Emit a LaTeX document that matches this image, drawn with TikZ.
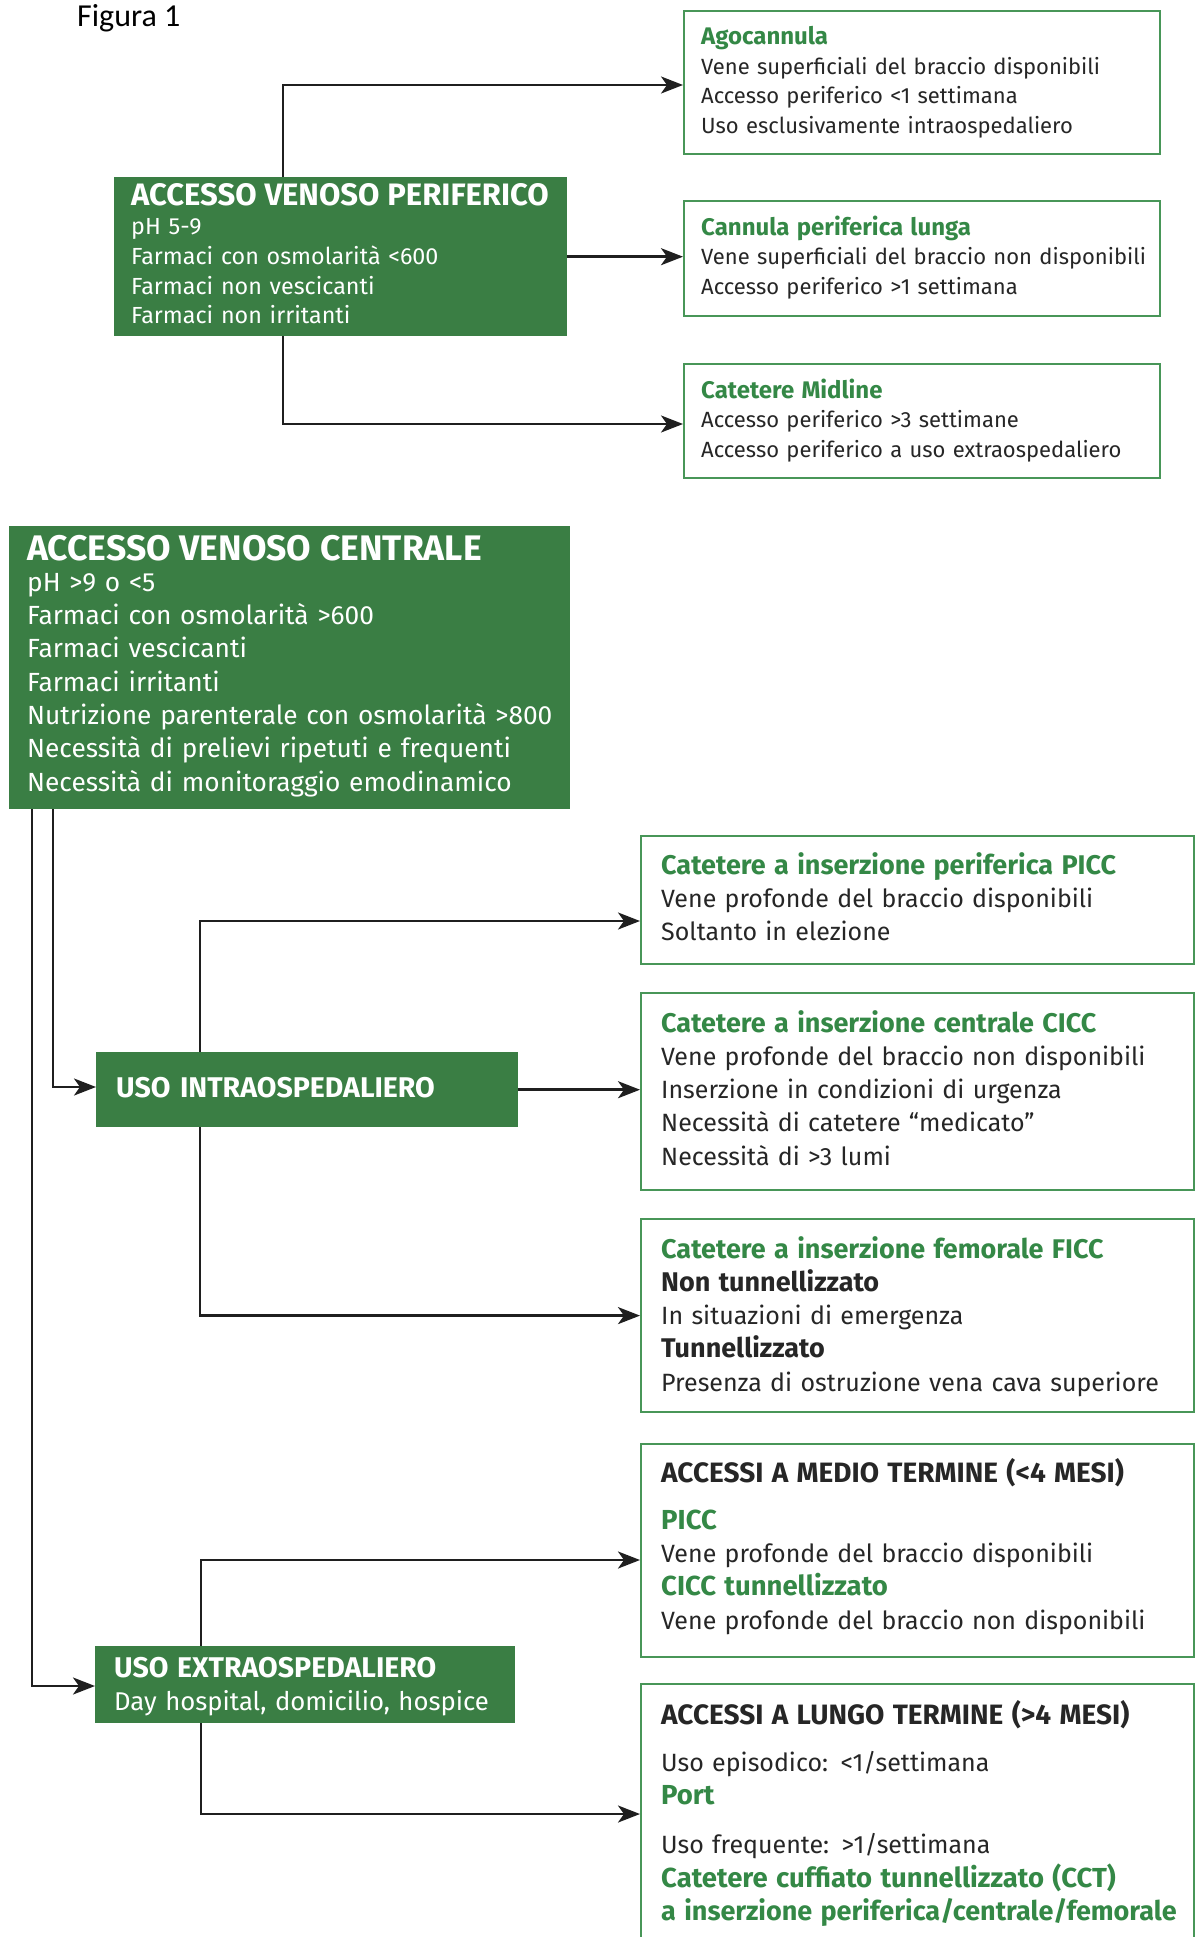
\documentclass[tikz,border=0pt]{standalone}
\usepackage{fontspec}
\setmainfont{Fira Sans}
\newfontfamily\figfont{Carlito}
\usetikzlibrary{arrows.meta}
\definecolor{vgreen}{RGB}{58,126,68}
\definecolor{tgreen}{RGB}{52,136,70}
\definecolor{bgreen}{RGB}{72,150,88}
\definecolor{dtext}{RGB}{38,38,38}
\newcommand{\fsz}[2]{\fontsize{#1}{#2}\selectfont}
\begin{document}
\begin{tikzpicture}[x=1pt,y=-1pt,
  gfill/.style={fill=vgreen, draw=none, inner sep=0pt, anchor=north west},
  wbox/.style={draw=bgreen, line width=2.2pt, fill=white, inner sep=0pt, anchor=north west},
  txt/.style={inner sep=0pt, anchor=base west, align=left, text width=#1},
  txt/.default=520,
  arr/.style={draw=black!88, line width=2.6pt, -{Stealth[length=22pt,width=17pt,inset=6pt]}},
  small/.style={font=\fsz{22}{29.5}},
  big/.style={font=\fsz{25}{33.3}},
]
\useasboundingbox (0,0) rectangle (1195,1937);
\fill[white] (0,0) rectangle (1195,1937);

\node[inner sep=0pt, anchor=base west, font=\figfont\fsz{32}{36}] (fig) at (77,27) {Figura 1};

% ---------- peripheral ----------
\node[gfill, minimum width=453, minimum height=159] (per) at (114,177) {};
\node[txt, font=\fsz{23.3}{29.7}, text=white] (perT) at (131,205)
  {{\fsz{31}{29.7}\bfseries ACCESSO VENOSO PERIFERICO}\\
   pH 5-9\\ Farmaci con osmolarità <600\\ Farmaci non vescicanti\\ Farmaci non irritanti};

\node[wbox, minimum width=476, minimum height=143] (ago) at (683,10) {};
\node[txt=470, small, text=dtext] (agoT) at (701,45)
  {{\fsz{24}{29.5}\color{tgreen}\bfseries Agocannula}\\ Vene superficiali del braccio disponibili\\
   Accesso periferico <1 settimana\\ Uso esclusivamente intraospedaliero};

\node[wbox, minimum width=476, minimum height=115] (can) at (683,200) {};
\node[txt=470, small, text=dtext] (canT) at (701,235)
  {{\fsz{24}{29.5}\color{tgreen}\bfseries Cannula periferica lunga}\\ Vene superficiali del braccio non disponibili\\
   Accesso periferico >1 settimana};

\node[wbox, minimum width=476, minimum height=114] (mid) at (683,363) {};
\node[txt=470, small, text=dtext] (midT) at (701,398)
  {{\fsz{24}{29.5}\color{tgreen}\bfseries Catetere Midline}\\ Accesso periferico >3 settimane\\
   Accesso periferico a uso extraospedaliero};

\coordinate (vP) at (283,0);
\coordinate (yA) at (0,85);
\coordinate (yC) at (0,424);
\draw[arr] (per.north -| vP) |- (ago.west |- yA);
\draw[arr] (per.east) -- (can.west |- per.east);
\draw[arr] (per.south -| vP) |- (mid.west |- yC);

% ---------- central ----------
\node[gfill, minimum width=561, minimum height=283] (cen) at (9,526) {};
\node[txt=545, font=\fsz{26.3}{33.3}, text=white] (cenT) at (27,560)
  {{\fsz{35.5}{33.3}\bfseries ACCESSO VENOSO CENTRALE}\\[-2pt]
   pH >9 o <5\\ Farmaci con osmolarità >600\\ Farmaci vescicanti\\ Farmaci irritanti\\
   Nutrizione parenterale con osmolarità >800\\ Necessità di prelievi ripetuti e frequenti\\
   Necessità di monitoraggio emodinamico};

\node[gfill, minimum width=422, minimum height=75] (intra) at (96,1052) {};
\node[txt=400, text=white, font=\fsz{28.5}{30}\bfseries] (intraT) at (116,1097) {USO INTRAOSPEDALIERO};

\node[gfill, minimum width=420, minimum height=77] (extra) at (95,1646) {};
\node[txt=410, font=\fsz{25.7}{33}, text=white] (extraT) at (114,1677)
  {{\fsz{28.5}{33}\bfseries USO EXTRAOSPEDALIERO}\\ Day hospital, domicilio, hospice};

\node[wbox, minimum width=553, minimum height=128] (picc) at (640,835) {};
\node[txt=530, big, text=dtext] (piccT) at (661,874)
  {{\fsz{27}{33.3}\color{tgreen}\bfseries Catetere a inserzione periferica PICC}\\
   Vene profonde del braccio disponibili\\ Soltanto in elezione};

\node[wbox, minimum width=553, minimum height=197] (cicc) at (640,992) {};
\node[txt=530, big, text=dtext] (ciccT) at (661,1032)
  {{\fsz{27}{33.3}\color{tgreen}\bfseries Catetere a inserzione centrale CICC}\\
   Vene profonde del braccio non disponibili\\ Inserzione in condizioni di urgenza\\
   Necessità di catetere “medicato”\\ Necessità di >3 lumi};

\node[wbox, minimum width=553, minimum height=193] (ficc) at (640,1218) {};
\node[txt=530, big, text=dtext] (ficcT) at (661,1258)
  {{\fsz{27}{33.3}\color{tgreen}\bfseries Catetere a inserzione femorale FICC}\\
   {\fsz{27}{33.3}\bfseries Non tunnellizzato}\\ In situazioni di emergenza\\
   {\fsz{27}{33.3}\bfseries Tunnellizzato}\\ Presenza di ostruzione vena cava superiore};

\node[wbox, minimum width=553, minimum height=213] (medio) at (640,1443) {};
\node[txt=530, big, text=dtext] (medioT) at (661,1482)
  {{\fsz{28}{33.3}\bfseries ACCESSI A MEDIO TERMINE (<4 MESI)}\\[14pt]
   {\fsz{27.5}{33.3}\color{tgreen}\bfseries PICC}\\ Vene profonde del braccio disponibili\\
   {\fsz{27.5}{33.3}\color{tgreen}\bfseries CICC tunnellizzato}\\ Vene profonde del braccio non disponibili};

\node[wbox, minimum width=553, minimum height=300] (lungo) at (640,1683) {};
\node[txt=545, big, text=dtext] (lungoT) at (661,1724)
  {{\fsz{28}{33.3}\bfseries ACCESSI A LUNGO TERMINE (>4 MESI)}\\[14pt]
   Uso episodico: <1/settimana\\ {\fsz{27.5}{33.3}\color{tgreen}\bfseries Port}\\[16pt]
   Uso frequente: >1/settimana\\ {\fsz{27.5}{33.3}\color{tgreen}\bfseries Catetere cuffiato tunnellizzato (CCT)}\\
   {\fsz{27}{33.3}\color{tgreen}\bfseries a inserzione periferica/centrale/femorale}};

\coordinate (vL) at (32,0);
\coordinate (vR) at (53,0);
\coordinate (vI) at (200,0);
\coordinate (vE) at (201,0);
\coordinate (yP) at (0,921);
\coordinate (yM) at (0,1560);
\coordinate (yL) at (0,1814);
\coordinate (yIn) at (0,1087);
\coordinate (yEx) at (0,1686);
\draw[arr] (cen.south -| vR) |- (intra.west |- yIn);
\draw[arr] (cen.south -| vL) |- (extra.west |- yEx);
\draw[arr] (intra.north -| vI) |- (picc.west |- yP);
\draw[arr] (intra.east) -- (cicc.west |- intra.east);
\draw[arr] (intra.south -| vI) |- (ficc.west);
\draw[arr] (extra.north -| vE) |- (medio.west |- yM);
\draw[arr] (extra.south -| vE) |- (lungo.west |- yL);
\end{tikzpicture}
\end{document}
